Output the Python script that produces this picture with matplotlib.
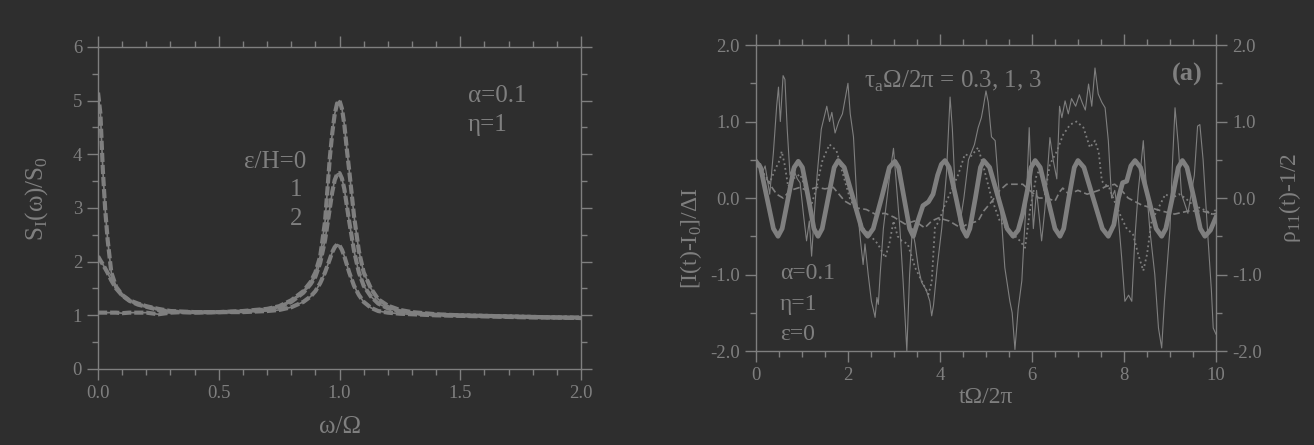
import matplotlib
matplotlib.use('Agg')
import matplotlib.pyplot as plt
from matplotlib.ticker import MultipleLocator

BG = '#2e2e2e'
FG = '#7f7f7f'

plt.rcParams['font.family'] = ['Liberation Serif', 'DejaVu Serif']
plt.rcParams['mathtext.fontset'] = 'custom'
plt.rcParams['mathtext.rm'] = 'Liberation Serif'
plt.rcParams['axes.unicode_minus'] = False

# ---- left panel: spectra S_I(w)/S_0 for eps/H = 0, 1, 2
omega = [0, 0.01, 0.02, 0.03, 0.04, 0.055, 0.075, 0.1, 0.13, 0.165, 0.2, 0.25,
         0.3, 0.35, 0.4, 0.5, 0.6, 0.7, 0.75, 0.8, 0.85, 0.88, 0.9, 0.92, 0.94,
         0.96, 0.97, 0.98, 0.99, 1.0, 1.01, 1.02, 1.03, 1.04, 1.06, 1.08, 1.1,
         1.13, 1.16, 1.2, 1.25, 1.3, 1.4, 1.5, 1.6, 1.7, 1.8, 1.9, 2.0]
spec_eps0 = [5.15, 4.75, 3.7, 2.95, 2.4, 1.8, 1.53, 1.38, 1.28, 1.22, 1.17, 1.12,
             1.08, 1.07, 1.06, 1.06, 1.08, 1.12, 1.17, 1.28, 1.45, 1.62, 1.8, 2.1, 2.75,
             3.95, 4.4, 4.75, 4.95, 5.0, 4.85, 4.55, 4.1, 3.7, 2.85, 2.2, 1.8,
             1.5, 1.3, 1.18, 1.1, 1.06, 1.02, 1.0, 0.99, 0.98, 0.97, 0.96, 0.96]
spec_eps1 = [2.1, 2.02, 1.95, 1.87, 1.79, 1.65, 1.5, 1.37, 1.27, 1.2, 1.16, 1.1,
             1.07, 1.06, 1.06, 1.06, 1.07, 1.11, 1.15, 1.25, 1.42, 1.58, 1.72, 1.98, 2.4,
             3.0, 3.3, 3.52, 3.63, 3.65, 3.55, 3.35, 3.05, 2.75, 2.2, 1.8, 1.55,
             1.35, 1.22, 1.13, 1.07, 1.04, 1.01, 1.0, 0.99, 0.98, 0.97, 0.96, 0.95]
spec_eps2 = [1.05, 1.05, 1.05, 1.05, 1.05, 1.05, 1.05, 1.04, 1.05, 1.05, 1.05, 1.02,
             1.05, 1.06, 1.05, 1.06, 1.06, 1.08, 1.1, 1.15, 1.25, 1.35, 1.45, 1.6, 1.8,
             2.05, 2.18, 2.27, 2.32, 2.3, 2.22, 2.1, 1.95, 1.8, 1.55, 1.38, 1.25,
             1.14, 1.08, 1.05, 1.03, 1.02, 1.0, 0.99, 0.98, 0.97, 0.96, 0.96, 0.95]

# ---- right panel: current and occupation vs time
t_rho = [0.0, 0.10, 0.24, 0.38, 0.48, 0.57, 0.70, 0.83, 0.92, 1.01, 1.14, 1.26, 1.35,
         1.44, 1.57, 1.70, 1.79, 1.92, 2.11, 2.30, 2.43, 2.55, 2.73, 2.90, 3.02,
         3.10, 3.22, 3.34, 3.42, 3.52, 3.63, 3.75, 3.85, 3.95, 4.03, 4.11, 4.20,
         4.35, 4.49, 4.58, 4.65, 4.77, 4.88, 4.95, 5.08, 5.27, 5.46, 5.59, 5.70,
         5.80, 5.90, 5.98, 6.07, 6.18, 6.34, 6.50, 6.61, 6.69, 6.80, 6.92, 7.0,
         7.13, 7.33, 7.53, 7.66, 7.78, 7.88, 7.97, 8.06, 8.15, 8.24, 8.36, 8.53,
         8.70, 8.82, 8.91, 9.05, 9.18, 9.27, 9.37, 9.52, 9.66, 9.76, 9.88, 10.0]
rho = [0.48, 0.40, 0.0, -0.40, -0.50, -0.40, 0.0, 0.40, 0.48, 0.40, 0.0, -0.40, -0.50,
       -0.40, 0.0, 0.40, 0.49, 0.40, 0.0, -0.40, -0.50, -0.40, 0.0, 0.40, 0.48,
       0.40, 0.0, -0.40, -0.50, -0.30, -0.10, -0.05, 0.05, 0.30, 0.44, 0.49, 0.40,
       0.0, -0.40, -0.50, -0.40, 0.0, 0.40, 0.49, 0.40, 0.0, -0.40, -0.50, -0.42,
       -0.20, 0.10, 0.40, 0.49, 0.40, 0.0, -0.40, -0.50, -0.40, 0.0, 0.40, 0.49,
       0.40, 0.0, -0.40, -0.50, -0.35, 0.0, 0.20, 0.22, 0.42, 0.49, 0.40, 0.0,
       -0.40, -0.50, -0.40, 0.0, 0.40, 0.49, 0.40, 0.0, -0.40, -0.50, -0.42, -0.25]

t_cur3 = [0.0, 0.05, 0.1, 0.15, 0.2, 0.3, 0.38, 0.45, 0.49, 0.53, 0.59, 0.63, 0.68,
          0.74, 0.8, 0.9, 0.96, 1.03, 1.1, 1.16, 1.21, 1.27, 1.33, 1.42, 1.5, 1.54,
          1.6, 1.65, 1.72, 1.8, 1.88, 1.94, 2.0, 2.05, 2.12, 2.2, 2.28, 2.33, 2.37,
          2.44, 2.51, 2.55, 2.59, 2.63, 2.66, 2.7, 2.77, 2.84, 2.91, 2.99, 3.05,
          3.13, 3.2, 3.28, 3.34, 3.4, 3.46, 3.53, 3.6, 3.7, 3.78, 3.82, 3.86, 3.94,
          4.04, 4.14, 4.22, 4.27, 4.33, 4.43, 4.52, 4.62, 4.75, 4.83, 4.9, 4.94,
          5.0, 5.05, 5.12, 5.2, 5.27, 5.34, 5.41, 5.52, 5.57, 5.63, 5.7, 5.78,
          5.83, 5.88, 5.94, 5.98, 6.03, 6.1, 6.21, 6.28, 6.39, 6.46, 6.54, 6.6,
          6.65, 6.72, 6.79, 6.86, 6.95, 7.03, 7.09, 7.16, 7.23, 7.3, 7.37, 7.44,
          7.52, 7.59, 7.66, 7.73, 7.8, 7.87, 7.95, 8.02, 8.1, 8.17, 8.24, 8.31,
          8.38, 8.42, 8.48, 8.56, 8.67, 8.75, 8.82, 8.88, 9.0, 9.05, 9.11, 9.18,
          9.25, 9.39, 9.53, 9.6, 9.65, 9.72, 9.83, 9.9, 9.94, 10.0]
cur3 = [0.48, 0.40, 0.45, 0.35, 0.42, 0.05, 0.6, 1.2, 1.45, 1.0, 1.6, 1.55, 0.9,
        0.3, 0.4, 0.25, 0.2, -0.2, -0.56, -0.3, -0.76, -0.2, 0.3, 0.9, 1.1, 1.2,
        1.0, 1.12, 0.85, 1.0, 1.1, 1.3, 1.5, 1.1, 0.8, -0.1, -0.6, -0.87, -0.6,
        -1.0, -1.35, -1.45, -1.56, -1.3, -1.39, -1.0, -0.4, -0.05, 0.31, 0.65, 0.2,
        -0.4, -1.1, -2.0, -1.0, -0.4, -0.6, -0.91, -1.1, -1.2, -1.35, -1.54, -1.4, -0.9,
        -0.39, 0.31, 1.32, 0.9, 0.1, -0.35, 0.0, 0.5, 0.7, 0.92, 1.05, 1.18,
        1.4, 1.25, 0.8, 0.75, 0.2, -0.3, -0.91, -1.35, -1.5, -1.98, -1.45, -1.08,
        -0.5, 0.0, 0.92, 0.3, -0.4, 0.1, -0.56, -0.15, 0.79, 0.5, 0.25, 1.2,
        1.05, 1.27, 1.1, 1.3, 1.2, 1.35, 1.25, 1.15, 1.49, 1.2, 1.70, 1.36,
        1.25, 1.18, 0.75, 0.0, 0.1, -0.2, -0.78, -1.35, -1.27, -1.35, -0.5, 0.09,
        0.5, 0.75, 0.2, -0.4, -1.0, -1.7, -1.96, -1.35, -0.4, 0.4, 1.18, 0.7,
        0.05, -0.2, 0.3, 0.94, 0.96, 0.5, -0.56, -1.2, -1.7, -1.78]

t_cur1 = [0.0, 0.1, 0.2, 0.3, 0.4, 0.52, 0.56, 0.62, 0.7, 0.8, 0.96, 1.1, 1.2, 1.3,
          1.45, 1.6, 1.75, 1.85, 2.04, 2.2, 2.33, 2.5, 2.65, 2.81, 2.9, 2.99, 3.08,
          3.17, 3.3, 3.46, 3.6, 3.75, 3.82, 3.89, 3.98, 4.1, 4.25, 4.4, 4.54, 4.68,
          4.83, 4.95, 5.12, 5.3, 5.45, 5.6, 5.74, 5.85, 5.96, 6.1, 6.2, 6.28, 6.39,
          6.54, 6.68, 6.83, 6.97, 7.12, 7.26, 7.37, 7.45, 7.52, 7.68, 7.8, 7.91,
          8.05, 8.2, 8.31, 8.42, 8.5, 8.6, 8.75, 8.9, 9.04, 9.2, 9.33, 9.5, 9.65,
          9.8, 9.91, 10.0]
cur1 = [0.48, 0.35, 0.3, 0.2, 0.35, 0.5, 0.61, 0.45, 0.15, 0.25, 0.31, 0.1, -0.1, 0.1,
        0.5, 0.7, 0.62, 0.4, 0.0, -0.2, -0.39, -0.5, -0.6, -0.78, -0.6, -0.3, -0.5,
        -0.56, -0.6, -0.91, -1.08, -1.26, -1.1, -0.39, -0.3, -0.1, 0.1, 0.31, 0.57, 0.55,
        0.66, 0.4, 0.0, -0.3, -0.4, -0.48, -0.56, -0.65, -0.15, 0.3, 0.4, 0.05, 0.44,
        0.61, 0.83, 0.96, 1.0, 0.92, 0.66, 0.75, 0.6, 0.22, 0.13, -0.05, -0.21,
        -0.39, -0.48, -0.74, -0.95, -0.74, -0.3, -0.13, 0.05, 0.0, 0.05, 0.0, -0.09, -0.13,
        -0.17, -0.21, -0.15]

t_cur03 = [0.0, 0.09, 0.3, 0.45, 0.59, 0.75, 0.96, 1.1, 1.32, 1.5, 1.68, 1.93, 2.19,
           2.4, 2.59, 2.81, 3.0, 3.24, 3.45, 3.67, 3.82, 3.97, 4.2, 4.45, 4.6, 4.83,
           4.95, 5.12, 5.3, 5.45, 5.67, 5.8, 5.95, 6.15, 6.32, 6.5, 6.6, 6.67, 6.8,
           7.0, 7.2, 7.45, 7.6, 7.8, 7.95, 8.09, 8.38, 8.6, 8.82, 9.1, 9.4, 9.7,
           9.95, 10.0]
cur03 = [0.48, 0.4, 0.18, 0.05, 0.0, 0.1, 0.14, 0.1, 0.14, 0.12, 0.14, -0.04, -0.13,
         -0.15, -0.21, -0.2, -0.25, -0.34, -0.3, -0.39, -0.3, -0.26, -0.3, -0.39, -0.34, -0.3,
         -0.17, -0.05, 0.1, 0.18, 0.18, 0.18, 0.1, 0.0, 0.0, -0.04, 0.08, 0.13, 0.05,
         0.1, 0.05, 0.1, 0.15, 0.18, 0.1, 0.0, -0.09, -0.13, -0.17, -0.21, -0.17, -0.17,
         -0.21, -0.2]


def style_axes(ax):
    ax.set_facecolor(BG)
    for sp in ax.spines.values():
        sp.set_color(FG)
        sp.set_linewidth(1.0)
    ax.tick_params(which='both', direction='out', colors=FG, top=True, right=True,
                   labelsize=13.5, width=1.0)
    ax.tick_params(which='major', length=8)
    ax.tick_params(which='minor', length=4)


fig = plt.figure(figsize=(13.14, 4.45), dpi=100)
fig.patch.set_facecolor(BG)

# left panel
ax1 = fig.add_axes([0.0746, 0.1708, 0.3676, 0.7236])
style_axes(ax1)
for spec in (spec_eps0, spec_eps1, spec_eps2):
    ax1.plot(omega, spec, color=FG, lw=1.2)
    ax1.plot(omega, spec, color=FG, lw=3.0, dashes=(2.2, 0.7))
ax1.set_xlim(0, 2)
ax1.set_ylim(0, 6)
ax1.xaxis.set_major_locator(MultipleLocator(0.5))
ax1.xaxis.set_minor_locator(MultipleLocator(0.1))
ax1.yaxis.set_major_locator(MultipleLocator(1))
ax1.yaxis.set_minor_locator(MultipleLocator(0.5))
ax1.xaxis.set_major_formatter(plt.FormatStrFormatter('%.1f'))
ax1.set_xlabel('ω/Ω', color=FG, fontsize=18, labelpad=10)
ax1.set_ylabel('S$_\\mathregular{I}$(ω)/S$_\\mathregular{0}$', color=FG, fontsize=18)
ax1.yaxis.set_label_coords(-0.10, 0.53)
ax1.text(1.53, 5.09, 'α=0.1', color=FG, fontsize=18, va='center')
ax1.text(1.53, 4.55, 'η=1', color=FG, fontsize=18, va='center')
ax1.text(0.864, 3.86, 'ε/H=0', color=FG, fontsize=18, ha='right', va='center')
ax1.text(0.82, 3.33, '1', color=FG, fontsize=18, ha='center', va='center')
ax1.text(0.82, 2.8, '2', color=FG, fontsize=18, ha='center', va='center')

# right panel
ax2 = fig.add_axes([0.5753, 0.2112, 0.3501, 0.6876])
style_axes(ax2)
ax2.plot(t_cur3, cur3, color=FG, lw=0.8)
ax2.plot(t_cur1, cur1, color=FG, lw=1.3, ls=':')
ax2.plot(t_cur03, cur03, color=FG, lw=1.2, dashes=(4, 2))
ax2.plot(t_rho, rho, color=FG, lw=3.4)
ax2.set_xlim(0, 10)
ax2.set_ylim(-2, 2)
ax2.xaxis.set_major_locator(MultipleLocator(2))
ax2.xaxis.set_minor_locator(MultipleLocator(0.5))
ax2.yaxis.set_major_locator(MultipleLocator(1))
ax2.yaxis.set_minor_locator(MultipleLocator(0.5))
ax2.yaxis.set_major_formatter(plt.FormatStrFormatter('%.1f'))
ax2.tick_params(labelright=True)
ax2.set_xlabel('tΩ/2π', color=FG, fontsize=17, labelpad=2)
ax2.set_ylabel('[I(t)-I$_\\mathregular{0}$]/ΔI', color=FG, fontsize=17)
ax2.yaxis.set_label_coords(-0.112, 0.37)
ax2r = ax2.secondary_yaxis('right')
ax2r.set_ylabel('ρ$_\\mathregular{11}$(t)-1/2', color=FG, fontsize=17, labelpad=44)
ax2r.tick_params(right=False, labelright=False)
ax2r.spines['right'].set_visible(False)
ax2.text(2.35, 1.53, 'τ$_\\mathregular{a}$Ω/2π = 0.3, 1, 3', color=FG, fontsize=18,
         va='center')
ax2.text(9.72, 1.62, '(a)', color=FG, fontsize=19, fontweight='bold', ha='right',
         va='center')
ax2.text(0.52, -0.99, 'α=0.1', color=FG, fontsize=17, va='center')
ax2.text(0.52, -1.39, 'η=1', color=FG, fontsize=17, va='center')
ax2.text(0.52, -1.78, 'ε=0', color=FG, fontsize=17, va='center')

fig.savefig('out.png', dpi=100, facecolor=BG)
